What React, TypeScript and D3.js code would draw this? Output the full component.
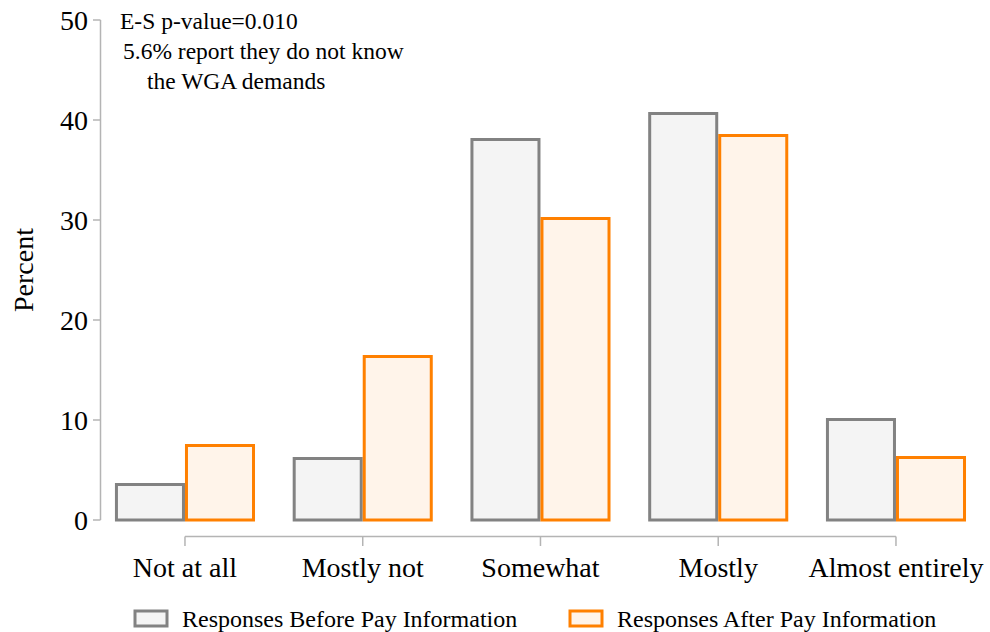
import React from "react";
import * as d3 from "d3";

const categories = ["Not at all", "Mostly not", "Somewhat", "Mostly", "Almost entirely"];
const seriesNames = ["Responses Before Pay Information", "Responses After Pay Information"];
const beforeValues = [3.7, 6.3, 38.2, 40.8, 10.2];
const afterValues = [7.6, 16.5, 30.3, 38.6, 6.4];
const yTicks = [0, 10, 20, 30, 40, 50];
const annotation = ["E-S p-value=0.010", "5.6% report they do not know", "the WGA demands"];

const W = 990;
const H = 632;
const FONT = "'Liberation Serif', 'Times New Roman', serif";
const strokes = ["#828282", "#ff8000"];
const fills = ["#f4f4f4", "#fff4ea"];

export default function App() {
  const y = d3.scaleLinear().domain([0, 50]).range([520, 20]);
  const x = d3
    .scaleBand<string>()
    .domain(categories)
    .range([96.1, 984.85])
    .paddingInner(0.212)
    .paddingOuter(0.106);
  const inner = d3.scaleBand<number>().domain([0, 1]).range([0, x.bandwidth()]);
  const series = [beforeValues, afterValues];
  const axisColor = "#b4b4b4";
  const centers = categories.map((c) => (x(c) as number) + x.bandwidth() / 2);

  return (
    <svg width={W} height={H} style={{ position: "absolute", left: 0, top: 0, background: "#fff" }} fontFamily={FONT}>
      {/* y axis */}
      <line x1={100.5} x2={100.5} y1={y(50)} y2={y(0)} stroke={axisColor} strokeWidth={1.5} />
      {yTicks.map((t) => (
        <g key={t}>
          <line x1={93} x2={100.5} y1={y(t)} y2={y(t)} stroke={axisColor} strokeWidth={1.5} />
          <text x={88} y={y(t)} dy="0.35em" textAnchor="end" fontSize={28} fill="#000">
            {t}
          </text>
        </g>
      ))}
      <text transform={`translate(33,${y(25)}) rotate(-90)`} textAnchor="middle" fontSize={28} fill="#000">
        Percent
      </text>
      {/* x axis */}
      <line x1={centers[0]} x2={centers[centers.length - 1]} y1={536.5} y2={536.5} stroke={axisColor} strokeWidth={1.5} />
      {categories.map((c, i) => (
        <g key={c}>
          <line x1={centers[i]} x2={centers[i]} y1={536.5} y2={546} stroke={axisColor} strokeWidth={1.5} />
          <text x={centers[i]} y={577} textAnchor="middle" fontSize={28} fill="#000">
            {c}
          </text>
        </g>
      ))}
      {/* bars */}
      {categories.map((c, i) => (
        <g key={c} transform={`translate(${x(c)},0)`}>
          {series.map((vals, s) => (
            <rect
              key={s}
              x={(inner(s) as number) + 1.5}
              y={y(vals[i]) + 1.5}
              width={inner.bandwidth() - 3}
              height={y(0) - y(vals[i]) - 1.5}
              fill={fills[s]}
              stroke={strokes[s]}
              strokeWidth={3}
            />
          ))}
        </g>
      ))}
      {/* annotation */}
      <text x={120} y={29} fontSize={23.5} fill="#000">
        {annotation[0]}
      </text>
      <text x={123} y={59} fontSize={23.5} fill="#000">
        {annotation[1]}
      </text>
      <text x={147} y={89} fontSize={23.5} fill="#000">
        {annotation[2]}
      </text>
      {/* legend */}
      {seriesNames.map((n, s) => {
        const lx = s === 0 ? 135 : 570;
        return (
          <g key={n}>
            <rect x={lx} y={611} width={32} height={15} fill={fills[s]} stroke={strokes[s]} strokeWidth={3} />
            <text x={lx + 47} y={627} fontSize={24} fill="#000">
              {n}
            </text>
          </g>
        );
      })}
    </svg>
  );
}
